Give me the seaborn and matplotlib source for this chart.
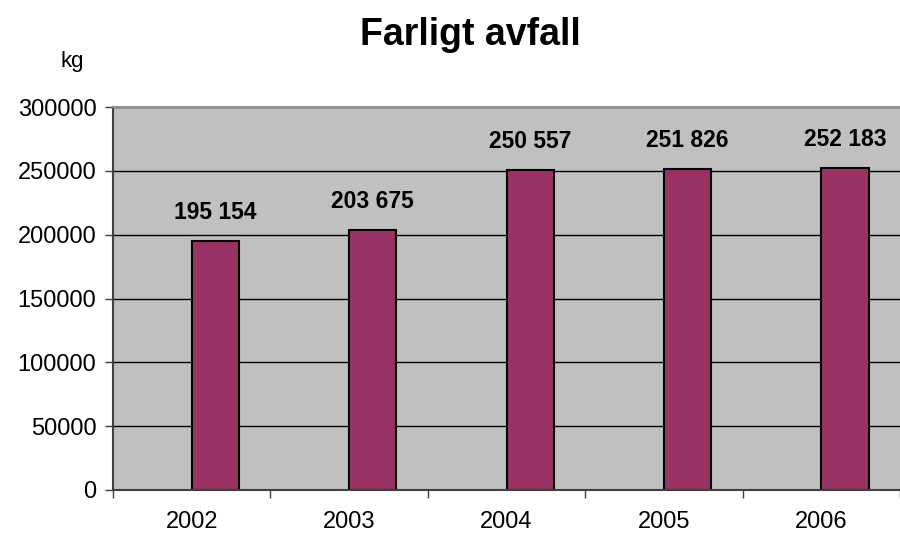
import seaborn as sns
import matplotlib.pyplot as plt
import pandas as pd
import numpy as np

# Data
years = ["2002", "2003", "2004", "2005", "2006"]
amounts = [195154, 203675, 250557, 251826, 252183]
labels = ["195 154", "203 675", "250 557", "251 826", "252 183"]

# Excel-style layout: an empty first series pushes the bars right of centre
df = pd.DataFrame({
    "year": years * 2,
    "kg": [np.nan] * len(years) + amounts,
    "series": ["blank"] * len(years) + ["avfall"] * len(years),
})

sns.set_theme(style="white")
plt.rcParams["font.family"] = ["Liberation Sans", "DejaVu Sans"]
plt.rcParams["text.color"] = "black"
plt.rcParams["xtick.color"] = "black"
plt.rcParams["ytick.color"] = "black"

fig = plt.figure(figsize=(9, 5.34), dpi=100)
ax = fig.add_axes([0.1256, 0.0824, 0.8744, 0.7172])
ax.set_facecolor("#C0C0C0")

sns.barplot(data=df, x="year", y="kg", hue="series", order=years,
            palette={"blank": "#993366", "avfall": "#993366"},
            saturation=1, width=0.6, dodge=True, edgecolor="black",
            linewidth=1.5, legend=False, ax=ax)

# value labels above the real bars
for patch, txt in zip([p for p in ax.patches if p.get_height() > 0], labels):
    ax.annotate(txt, (patch.get_x() + patch.get_width() / 2, patch.get_height()),
                xytext=(0, 12), textcoords="offset points",
                ha="center", va="bottom", fontsize=16.5, fontweight="bold")

ax.set_ylim(0, 300000)
ax.set_xlim(-0.5, 4.45)
ax.set_yticks(np.arange(0, 300001, 50000))
ax.set_yticklabels([str(v) for v in range(0, 300001, 50000)], fontsize=17)
ax.set_xticklabels(years, fontsize=17)
ax.set_xlabel("")
ax.set_ylabel("")

ax.yaxis.grid(True, color="black", linewidth=1)
ax.set_axisbelow(True)

ax.tick_params(axis="y", left=True, length=6, width=1, color="#404040", pad=6)
ax.tick_params(axis="x", which="major", bottom=False, pad=9)
ax.set_xticks(np.arange(-0.5, 5, 1), minor=True)
ax.tick_params(axis="x", which="minor", bottom=True, length=6, width=1, color="#404040")

for side in ["left", "bottom"]:
    ax.spines[side].set_color("#404040")
    ax.spines[side].set_linewidth(1.5)
ax.spines["top"].set_color("#909090")
ax.spines["top"].set_linewidth(1.5)
ax.spines["right"].set_visible(False)

fig.text(0.523, 0.934, "Farligt avfall", ha="center", va="center",
         fontsize=27, fontweight="bold")
fig.text(0.08, 0.884, "kg", ha="center", va="center", fontsize=16)

fig.savefig("out.png", dpi=100)
